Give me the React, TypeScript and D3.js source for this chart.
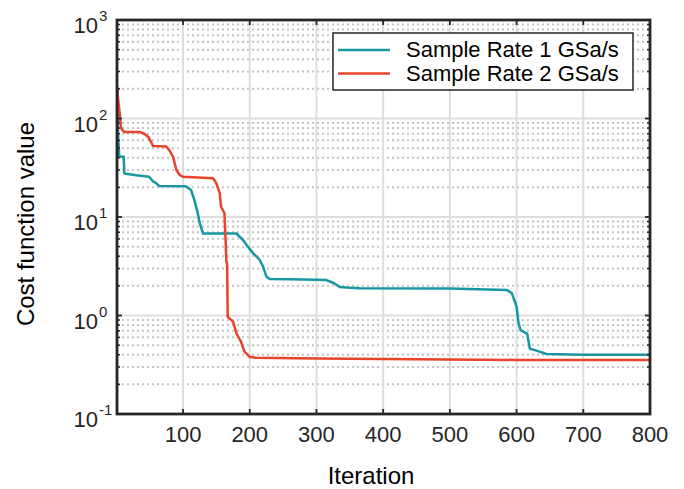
import React from "react";
import * as d3 from "d3";

const W = 684;
const H = 489;
const M = { left: 117, right: 650, top: 20, bottom: 414 };

const xTicks = [100, 200, 300, 400, 500, 600, 700, 800];
const yExponents = [-1, 0, 1, 2, 3];

const rate1Iter = [1, 2, 3, 4.5, 11, 12, 30, 49, 55, 60, 64, 104, 112, 117, 122, 125, 130, 180, 190, 197, 205, 215, 220, 225, 230, 260, 315, 325, 335, 345, 365, 500, 585, 593, 600, 603, 606, 616, 620, 630, 645, 700, 800];
const rate1Cost = [218, 97, 60, 41, 41, 27.6, 26.5, 25.6, 23, 22, 20.7, 20.5, 18.8, 14.8, 11, 8.7, 6.8, 6.8, 5.84, 5.0, 4.3, 3.66, 3.13, 2.48, 2.35, 2.33, 2.29, 2.15, 1.95, 1.92, 1.89, 1.88, 1.82, 1.68, 1.23, 0.83, 0.71, 0.65, 0.46, 0.44, 0.407, 0.4, 0.4];

const rate2Iter = [1, 3, 4.5, 7, 10, 12, 35, 42, 48, 52, 55, 75, 80, 85, 90, 95, 100, 145, 150, 155, 157, 161, 162, 164, 165, 166, 167, 175, 180, 187, 192, 200, 210, 300, 450, 600, 800];
const rate2Cost = [210, 150, 122, 80, 75, 73, 73, 70, 65, 58, 52.5, 52, 47, 40.9, 30, 26.7, 25.6, 24.8, 22, 17.4, 12.7, 11.3, 11, 5.4, 3.5, 3.4, 0.97, 0.865, 0.66, 0.54, 0.43, 0.38, 0.373, 0.367, 0.36, 0.354, 0.353];

const seriesNames = ["Sample Rate 1 GSa/s", "Sample Rate 2 GSa/s"];
const seriesColors = ["#1897a2", "#e8432b"];

const FONT = "'Liberation Sans', Arial, Helvetica, sans-serif";
const AX = "#262626";

export default function App() {
  const x = d3.scaleLinear().domain([1, 800]).range([M.left, M.right]);
  const y = d3.scaleLog().domain([0.1, 1000]).range([M.bottom, M.top]);

  const allYTicks = y.ticks();
  const minorY = allYTicks.filter((t) => {
    const l = Math.log10(t);
    return Math.abs(l - Math.round(l)) > 1e-6;
  });

  const line = d3
    .line<[number, number]>()
    .x((d) => x(d[0]))
    .y((d) => y(d[1]));

  const s1 = rate1Iter.map((it, i) => [it, rate1Cost[i]] as [number, number]);
  const s2 = rate2Iter.map((it, i) => [it, rate2Cost[i]] as [number, number]);
  const series = [s1, s2];

  return (
    <svg width={W} height={H} style={{ position: "absolute", left: 0, top: 0, background: "#fff" }}>
      <defs>
        <clipPath id="plotclip">
          <rect x={M.left} y={M.top} width={M.right - M.left} height={M.bottom - M.top} />
        </clipPath>
      </defs>
      <rect x={0} y={0} width={W} height={H} fill="#fff" />
      {/* minor y grid */}
      {minorY.map((t) => (
        <line key={"my" + t} x1={M.left} x2={M.right} y1={y(t)} y2={y(t)} stroke="#c4c4c4" strokeWidth={2} strokeDasharray="2,3" />
      ))}
      {/* major grid */}
      {yExponents.map((e) => (
        <line key={"gy" + e} x1={M.left} x2={M.right} y1={y(Math.pow(10, e))} y2={y(Math.pow(10, e))} stroke="#dedede" strokeWidth={2} />
      ))}
      {xTicks.map((t) => (
        <line key={"gx" + t} x1={x(t)} x2={x(t)} y1={M.top} y2={M.bottom} stroke="#dedede" strokeWidth={2} />
      ))}
      {/* curves */}
      <g clipPath="url(#plotclip)">
        {series.map((s, i) => (
          <path key={"s" + i} d={line(s) || ""} fill="none" stroke={seriesColors[i]} strokeWidth={2.5} strokeLinejoin="round" />
        ))}
      </g>
      {/* ticks */}
      {xTicks.map((t) => (
        <g key={"tx" + t}>
          <line x1={x(t)} x2={x(t)} y1={M.bottom} y2={M.bottom - 5} stroke={AX} strokeWidth={1.8} />
          <line x1={x(t)} x2={x(t)} y1={M.top} y2={M.top + 5} stroke={AX} strokeWidth={1.8} />
        </g>
      ))}
      {yExponents.map((e) => (
        <g key={"ty" + e}>
          <line x1={M.left} x2={M.left + 5} y1={y(Math.pow(10, e))} y2={y(Math.pow(10, e))} stroke={AX} strokeWidth={1.8} />
          <line x1={M.right} x2={M.right - 5} y1={y(Math.pow(10, e))} y2={y(Math.pow(10, e))} stroke={AX} strokeWidth={1.8} />
        </g>
      ))}
      {minorY.map((t) => (
        <g key={"mty" + t}>
          <line x1={M.left} x2={M.left + 3} y1={y(t)} y2={y(t)} stroke={AX} strokeWidth={1.5} />
          <line x1={M.right} x2={M.right - 3} y1={y(t)} y2={y(t)} stroke={AX} strokeWidth={1.5} />
        </g>
      ))}
      {/* box */}
      <rect x={M.left} y={M.top} width={M.right - M.left} height={M.bottom - M.top} fill="none" stroke={AX} strokeWidth={2.8} />
      {/* x tick labels */}
      {xTicks.map((t) => (
        <text key={"lx" + t} x={x(t)} y={M.bottom + 28} textAnchor="middle" fontFamily={FONT} fontSize={22} fill={AX}>
          {t}
        </text>
      ))}
      {/* y tick labels */}
      {yExponents.map((e) => (
        <g key={"ly" + e} fontFamily={FONT} fill={AX}>
          <text x={98} y={y(Math.pow(10, e)) + 13} textAnchor="end" fontSize={22}>
            10
          </text>
          <text x={99} y={y(Math.pow(10, e)) + 1} textAnchor="start" fontSize={15}>
            {e < 0 ? "-" + Math.abs(e) : String(e)}
          </text>
        </g>
      ))}
      {/* axis labels */}
      <text x={371} y={484} textAnchor="middle" fontFamily={FONT} fontSize={24} fill="#000">
        Iteration
      </text>
      <text transform="translate(34,224) rotate(-90)" textAnchor="middle" fontFamily={FONT} fontSize={24} fill="#000">
        Cost function value
      </text>
      {/* legend */}
      <g>
        <rect x={333} y={33} width={300} height={57} fill="#fff" stroke={AX} strokeWidth={1.5} />
        {seriesNames.map((n, i) => (
          <g key={"leg" + i}>
            <line x1={338} x2={390} y1={50 + i * 23.5} y2={50 + i * 23.5} stroke={seriesColors[i]} strokeWidth={2.5} />
            <text x={406} y={57 + i * 23.5} fontFamily={FONT} fontSize={22} fill="#000">
              {n}
            </text>
          </g>
        ))}
      </g>
    </svg>
  );
}
